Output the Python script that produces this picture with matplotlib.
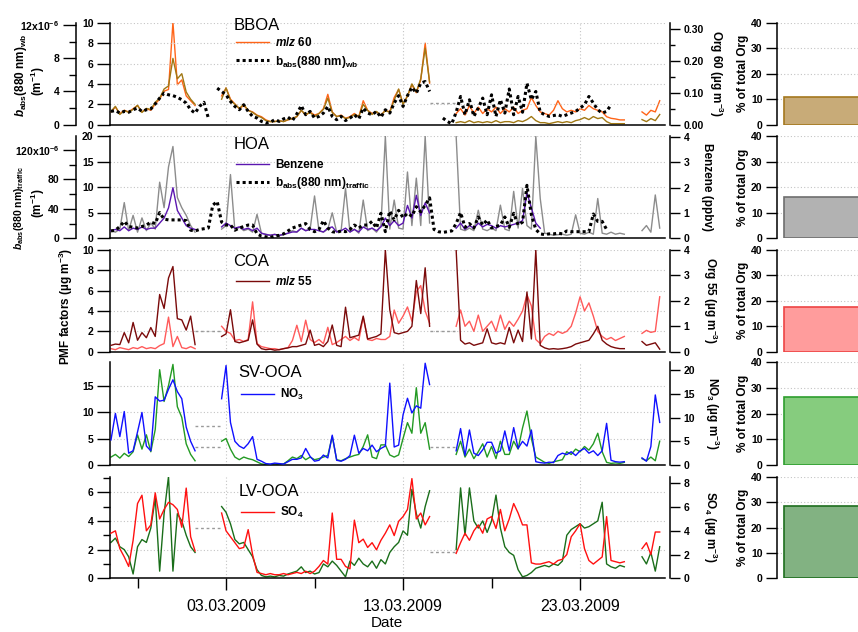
import numpy as np
import pandas as pd
import matplotlib
matplotlib.use("Agg")
import matplotlib.pyplot as plt
import matplotlib.dates as mdates
from matplotlib.ticker import MultipleLocator, FuncFormatter, FixedLocator

nan = np.nan

# 6-hourly values (Feb 24 12:00 .. Mar 27 12:00)
time = pd.date_range("2009-02-24 12:00", "2009-03-27 12:00", freq="6h")

bboa = [1.3, 1.8,
        1.0, 1.4, 1.2, 1.5,  1.9, 1.2, 1.6, 1.5,  2.2, 2.6, 3.5, 3.8,  6.5, 4.5, 5.0, 3.2,
        2.5, 2.0, nan, nan,  nan, nan, nan, 2.5,  3.6, 2.4, 2.0, 1.6,  2.0, 1.4, 1.2, 0.9,
        0.7, 0.4, 0.3, 0.3,  0.4, 0.3, 0.5, 0.6,  0.8, 1.4, 1.0, 1.2,  0.8, 1.1, 1.5, 2.6,
        1.2, 0.8, 0.9, 0.6,  0.7, 1.0, 0.8, 2.0,  1.4, 1.0, 1.3, 0.9,  1.4, 1.2, 2.4, 3.5,
        2.0, 2.8, 4.0, 3.2,  4.5, 7.5, 4.2, nan,  nan, nan, nan, nan,  0.2, 0.3, 0.2, 0.4,
        0.2, 0.3, 0.2, 0.3,  0.2, 0.4, 0.2, 0.3,  0.3, 0.2, 0.4, 0.3,  0.5, 0.8, 0.4, 0.2,
        0.2, 0.1, 0.2, 0.3,  0.2, 0.3, 0.2, 0.4,  0.5, 0.7, 0.5, 0.8,  0.6, 0.7, 0.3, 0.1,
        0.1, 0.1, 0.1, nan,  nan, nan, 0.5, 0.3,
        0.6, 0.4, 1.0]
mz60 = [0.040, 0.055,
        0.035, 0.045, 0.040, 0.050,  0.060, 0.040, 0.050, 0.045,  0.065, 0.080, 0.105, 0.110,
        0.320, 0.125, 0.140, 0.090,  0.075, 0.060, nan, nan,  nan, nan, nan, 0.090,
        0.115, 0.080, 0.065, 0.050,  0.060, 0.045, 0.040, 0.030,  0.025, 0.015, 0.010, 0.010,
        0.012, 0.010, 0.015, 0.020,  0.025, 0.045, 0.030, 0.040,  0.030, 0.035, 0.050, 0.095,
        0.040, 0.025, 0.030, 0.020,  0.025, 0.035, 0.025, 0.075,  0.045, 0.035, 0.040, 0.030,
        0.045, 0.040, 0.085, 0.110,  0.065, 0.090, 0.125, 0.100,  0.140, 0.255, 0.130, nan,
        nan, nan, nan, nan,  0.035, 0.050, 0.030, 0.060,  0.035, 0.055, 0.035, 0.050,
        0.040, 0.055, 0.035, 0.050,  0.040, 0.055, 0.035, 0.045,  0.050, 0.085, 0.060, 0.040,
        0.035, 0.030, 0.045, 0.075,  0.050, 0.040, 0.045, 0.040,  0.050, 0.045, 0.060, 0.050,
        0.045, 0.040, 0.025, 0.020,  0.018, 0.015, 0.015, nan,  nan, nan, 0.040, 0.030,
        0.045, 0.040, 0.075]
babs_wb = [1.6, 1.7,  # 10^-6 m-1
           1.4, 1.6, 1.5, 1.8,  2.0, 1.6, 1.8, 1.9,  2.5, 3.2, 3.8, 3.6,  3.5, 3.3, 3.0, 2.6,
           1.8, 1.4, 2.2, 2.7,  0.8, nan, 4.4, 4.0,  3.6, 2.8, 2.2, 1.8,  2.4, 1.6, 1.0, 0.8,
           0.4, 0.2, 0.3, 0.6,  0.4, 0.7, 0.9, 0.5,  1.3, 2.3, 1.2, 1.6,  0.8, 1.0, 1.4, 2.2,
           1.0, 0.6, 1.0, 0.5,  0.8, 1.2, 0.7, 2.0,  1.4, 1.2, 1.6, 0.9,  1.8, 1.4, 2.6, 3.5,
           2.2, 3.5, 4.5, 3.8,  5.0, 5.2, 4.0, nan,  nan, 0.8, 0.4, 0.1,  1.5, 3.4, 1.2, 3.0,
           1.0, 2.0, 3.2, 1.2,  3.6, 1.0, 3.0, 1.4,  4.3, 1.2, 3.4, 1.5,  5.0, 3.0, 4.0, 1.5,
           1.2, 1.0, 1.1, 1.2,  1.0, 1.2, 1.4, 1.6,  2.0, 2.4, 3.4, 2.6,  1.8, 1.4, 1.6, 2.4,
           nan, nan, nan, nan,  nan, nan, nan, nan,
           nan, nan, nan]

hoa = [1.5, 1.2,
       1.8, 7.0, 1.5, 4.5,  1.2, 4.0, 1.5, 3.0,  1.8, 11.0, 6.0, 14.0,  18.0, 8.0, 6.0, 4.5,
       2.5, 1.2, nan, nan,  nan, nan, nan, 1.8,  2.5, 12.5, 1.5, 2.2,  1.5, 1.8, 1.2, 4.7,
       1.0, 0.8, 0.6, 0.8,  0.5, 0.8, 1.0, 1.5,  1.2, 2.0, 1.5, 1.8,  8.3, 1.5, 1.2, 1.8,
       5.0, 1.2, 1.5, 9.8,  1.2, 1.8, 1.0, 7.5,  1.5, 2.0, 1.2, 2.5,  20.0, 1.8, 7.5, 2.0,
       1.8, 13.0, 2.5, 11.8,  2.5, 20.0, 3.0, nan,  nan, nan, nan, nan,  20.0, 1.8, 1.5, 2.0,
       1.5, 5.5, 1.8, 1.5,  2.0, 1.5, 6.5, 1.8,  1.5, 9.2, 2.0, 9.8,  2.5, 1.8, 20.0, 7.8,
       1.0, 0.8, 0.6, 0.7,  0.8, 0.6, 0.8, 4.6,  1.0, 0.8, 1.2, 0.8,  7.8, 1.0, 0.8, 1.2,
       0.8, 1.0, 0.8, nan,  nan, nan, 1.5, 2.5,
       1.2, 8.5, 2.0]
benzene = [0.30, 0.35,
           0.30, 0.45, 0.30, 0.40,  0.35, 0.45, 0.35, 0.40,  0.40, 0.60, 0.80, 1.20,
           2.00, 1.10, 0.80, 0.50,  0.40, 0.35, nan, nan,  nan, nan, nan, 0.45,
           0.60, 0.50, 0.40, 0.45,  0.35, 0.40, 0.30, 0.40,  0.20, 0.15, 0.12, 0.15,
           0.12, 0.15, 0.20, 0.25,  0.25, 0.40, 0.30, 0.35,  0.35, 0.30, 0.25, 0.40,
           0.45, 0.25, 0.30, 0.40,  0.25, 0.35, 0.25, 0.45,  0.35, 0.40, 0.30, 0.45,
           0.80, 0.50, 0.70, 0.50,  0.60, 1.30, 0.80, 1.70,  0.90, 1.40, 1.00, nan,
           nan, nan, nan, nan,  0.40, 0.60, 0.35, 0.50,  0.40, 0.60, 0.45, 0.55,
           0.50, 0.40, 0.50, 0.45,  0.50, 0.55, 0.60, 0.70,  1.80, 1.20, 0.60, 0.40,
           nan, nan, nan, nan,  nan, nan, nan, nan,  nan, nan, nan, nan,
           nan, nan, nan, nan,  nan, nan, nan, nan,  nan, nan, nan, nan,
           nan, nan, nan]
babs_traffic = [10, 11,  # 10^-6 m-1
                16, 23, 16, 15,  14, 16, 18, 22,  20, 35, 26, 25,  25, 25, 25, 24,
                11, 10, 12, 13,  14, 45, 50, 22,  18, 18, 11, 14,  16, 18, 18, 6,
                3, 2, 1, 3,  4, 6, 10, 14,  16, 18, 20, 12,  9, 12, 24, 14,
                9, 8, 10, 9,  12, 18, 14, 18,  18, 23, 14, 34,  9, 37, 25, 38,
                28, 34, 30, 43,  36, 45, 55, 12,  9, 8, 9, 10,  20, 35, 15, 20,
                14, 29, 18, 25,  14, 16, 18, 29,  15, 34, 18, 22,  72, 32, 12, 6,
                5, 6, 6, 7,  6, 10, 9, 9,  9, 9, 9, 33,  23, 23, 12, nan,
                nan, nan, nan, nan,  nan, nan, nan, nan,
                nan, nan, nan]

coa = [0.3, 0.2,
       0.4, 0.3, 0.2, 0.4,  0.3, 0.5, 0.3, 0.4,  0.3, 0.6, 0.8, 3.4,  0.5, 1.5, 0.4, 0.3,
       0.5, 0.3, nan, nan,  nan, nan, nan, 2.5,  2.0, 1.8, 1.1, 1.2,  1.0, 1.2, 4.9, 0.8,
       0.5, 0.4, 0.3, 0.3,  0.2, 0.3, 0.4, 1.1,  2.6, 1.0, 3.1, 1.2,  0.9, 1.2, 0.8, 2.4,
       0.7, 0.9, 1.2, 1.5,  1.1, 1.4, 1.1, 3.4,  1.2, 1.1, 1.3, 1.2,  1.2, 1.5, 4.1, 2.8,
       3.5, 4.4, 3.0, 5.9,  6.5, 4.0, 2.8, nan,  nan, nan, nan, nan,  2.5, 4.1, 2.5, 3.0,
       2.0, 3.6, 2.0, 2.5,  3.0, 2.0, 3.6, 2.2,  3.0, 2.5, 3.2, 4.0,  5.6, 4.5, 1.2, 0.8,
       1.5, 1.8, 1.6, 2.0,  1.8, 2.0, 2.5, 3.8,  5.4, 4.0, 4.8, 3.5,  2.0, 1.5, 1.2, 1.4,
       1.1, 1.3, 1.5, nan,  nan, nan, 1.8, 2.1,
       1.9, 2.0, 5.4]
mz55 = [0.25, 0.30,
        0.28, 0.75, 0.35, 1.15,  0.45, 0.75, 0.55, 0.95,  0.60, 2.25, 1.70, 2.90,
        3.35, 1.30, 1.25, 0.85,  1.40, 0.28, nan, nan,  nan, nan, nan, 0.60,
        0.70, 1.65, 0.40, 0.35,  0.40, 0.45, 1.25, 0.30,  0.12, 0.08, 0.10, 0.06,
        0.08, 0.12, 0.15, 0.20,  0.20, 0.25, 0.30, 0.85,  0.25, 0.30, 0.20, 0.40,
        1.05, 0.25, 0.20, 1.75,  0.55, 0.60, 0.65, 1.40,  0.50, 0.55, 0.60, 0.70,
        4.00, 1.65, 0.75, 0.70,  0.75, 0.80, 1.00, 2.80,  1.50, 3.30, 1.00, nan,
        nan, nan, nan, nan,  4.00, 0.45, 0.30, 0.35,  0.25, 0.30, 0.35, 0.90,
        0.35, 0.30, 0.35, 0.30,  0.95, 0.35, 0.85, 0.40,  2.35, 0.50, 4.00, 0.25,
        0.15, 0.10, 0.12, 0.10,  0.12, 0.15, 0.20, 0.30,  0.35, 0.40, 0.45, 0.70,
        1.00, 0.45, 0.30, 0.20,  0.15, 0.12, 0.12, nan,  nan, nan, 0.40, 0.25,
        0.30, 0.35, 0.10]

sv_ooa = [1.5, 2.0,
          1.3, 2.2, 1.6, 2.5,  5.7, 3.0, 5.7, 2.5,  6.7, 18.0, 12.0, 15.0,  19.0, 11.0, 9.0, 4.0,
          2.0, 0.8, nan, nan,  nan, nan, nan, 4.5,  5.0, 3.0, 1.5, 1.0,  1.5, 1.2, 1.0, 0.6,
          0.2, 0.1, 0.1, 0.2,  0.1, 0.2, 0.8, 1.5,  1.2, 1.8, 1.0, 1.5,  1.0, 1.2, 1.5, 1.8,
          5.4, 1.0, 0.8, 1.2,  1.5, 1.8, 2.0, 3.5,  5.7, 1.5, 1.2, 3.8,  3.8, 1.9, 1.5, 1.9,
          5.0, 8.0, 6.0, 14.6,  6.0, 8.0, 3.0, nan,  nan, nan, nan, nan,  2.0, 4.5, 1.5, 3.0,
          1.2, 2.5, 4.0, 1.5,  3.5, 1.2, 4.5, 2.0,  2.0, 4.5, 3.0, 7.0,  10.2, 5.0, 1.5, 1.0,
          0.5, 0.3, 0.6, 0.8,  1.0, 2.5, 2.0, 3.0,  2.5, 3.5, 2.8, 4.0,  6.0, 2.5, 0.5, 0.3,
          0.4, 0.3, 0.5, nan,  nan, nan, 1.2, 0.8,
          1.5, 0.8, 4.5]
no3 = [5.3, 10.9,
       6.0, 11.3, 2.5, 3.0,  7.0, 11.1, 4.0, 3.0,  14.4, 13.5, 13.7, 16.0,  18.0, 15.5, 14.0, 8.0,
       5.0, 3.0, nan, nan,  nan, nan, nan, 14.0,  21.0, 9.0, 5.0, 4.0,  3.5, 4.5, 6.0, 1.2,
       0.8, 0.3, 0.2, 0.4,  0.3, 0.2, 0.7, 1.2,  1.2, 1.5, 3.5, 1.8,  0.8, 1.0, 2.1, 1.5,
       6.3, 1.0, 0.8, 1.2,  2.0, 6.3, 2.5, 3.5,  3.0, 4.2, 2.8, 3.5,  4.0, 17.3, 3.8, 4.2,
       10.6, 14.1, 11.0, 12.5,  12.0, 21.5, 17.0, nan,  nan, nan, nan, nan,  3.0, 7.7, 2.0, 7.4,
       2.5, 2.0, 3.2, 4.8,  4.8, 2.5, 3.0, 7.2,  3.0, 7.9, 3.5, 5.0,  4.0, 7.4, 0.7, 0.5,
       0.4, 0.6, 0.5, 2.0,  2.5, 2.2, 2.8, 2.0,  3.0, 3.5, 2.5, 3.0,  2.0, 3.0, 8.8, 1.0,
       0.7, 0.6, 0.7, nan,  nan, nan, 1.5, 0.8,
       3.9, 14.8, 9.0]

lv_ooa = [2.5, 2.8,
          2.2, 2.0, 1.5, 0.3,  2.2, 2.7, 2.5, 3.5,  5.6, 0.5, 4.5, 7.1,  0.5, 4.5, 4.0, 3.0,
          2.2, 1.8, nan, nan,  nan, nan, nan, 5.0,  4.6, 3.8, 2.7, 2.4,  2.5, 2.0, 1.5, 0.6,
          0.2, 0.1, 0.15, 0.1,  0.2, 0.15, 0.3, 0.4,  0.5, 0.8, 0.4, 0.5,  0.3, 0.4, 1.0, 0.8,
          1.2, 0.9, 0.5, 0.1,  1.2, 0.9, 1.4, 1.0,  0.8, 1.2, 0.7, 1.3,  1.0, 1.8, 2.2, 2.5,
          3.3, 3.0, 6.2, 4.5,  3.5, 5.0, 6.1, nan,  nan, nan, nan, nan,  2.0, 6.3, 3.0, 6.3,
          4.0, 3.5, 4.0, 3.2,  4.0, 5.8, 3.5, 2.2,  1.8, 1.6, 0.6, 0.1,  0.2, 0.4, 0.7, 0.8,
          0.9, 0.8, 1.0, 0.9,  1.2, 3.0, 3.4, 3.6,  3.8, 3.5, 3.6, 3.8,  4.0, 5.3, 1.0, 0.8,
          0.7, 0.9, 0.8, nan,  nan, nan, 1.5, 1.0,
          1.8, 0.5, 2.2]
so4 = [3.8, 4.0,
       2.5, 1.8, 1.0, 3.2,  6.3, 7.0, 4.0, 4.5,  7.2, 5.0, 5.8, 6.4,  6.2, 5.8, 4.3, 7.6,
       3.5, 2.3, nan, nan,  nan, nan, nan, 5.5,  4.0, 3.5, 3.0, 2.5,  2.6, 4.1, 2.0, 0.5,
       0.4, 0.3, 0.4, 0.3,  0.3, 0.4, 0.3, 0.4,  0.5, 0.4, 0.6, 0.4,  0.6, 1.0, 1.5, 1.2,
       5.5, 1.6, 1.6, 1.0,  0.8, 4.9, 3.0, 3.3,  2.6, 3.0, 2.4, 3.2,  3.8, 4.5, 3.6, 4.8,
       5.2, 5.8, 8.4, 5.0,  5.5, 4.5, 5.2, nan,  nan, nan, nan, nan,  2.1, 3.0, 3.8, 3.2,
       4.0, 4.5, 3.8, 5.0,  5.2, 4.2, 5.8, 4.0,  5.0, 6.3, 5.5, 4.5,  4.5, 1.3, 1.2, 1.2,
       1.3, 1.4, 1.2, 1.5,  1.6, 2.0, 3.5, 4.0,  4.6, 2.5, 1.5, 1.2,  1.5, 1.8, 5.2, 1.5,
       1.4, 1.3, 1.4, nan,  nan, nan, 2.5, 3.0,
       2.0, 3.9, 3.9]

factor_names = ["BBOA", "HOA", "COA", "SV-OOA", "LV-OOA"]
pct_total_org = [11.0, 16.3, 17.5, 26.6, 28.5]
# level of the dashed line drawn across the 1st and 2nd data gap
gap_levels = [[[], [2.1]], [[], []], [[2.0], [2.0]], [[7.3, 3.4], [3.4]], [[3.5], [1.8]]]
major_dates = ["2009-03-03", "2009-03-13", "2009-03-23"]
minor_dates = ["2009-02-26", "2009-03-08", "2009-03-18"]

plt.rcParams["font.family"] = ["Liberation Sans", "DejaVu Sans"]
plt.rcParams["font.weight"] = "bold"
plt.rcParams["mathtext.fontset"] = "custom"
plt.rcParams["mathtext.rm"] = "Liberation Sans:bold"
plt.rcParams["mathtext.it"] = "Liberation Sans:italic:bold"
plt.rcParams["mathtext.bf"] = "Liberation Sans:bold"
plt.rcParams["axes.linewidth"] = 1.1

FW, FH = 858, 632
fig = plt.figure(figsize=(FW / 100, FH / 100), dpi=100)


def px_box(x0, x1, top, bottom):
    return [x0 / FW, 1 - bottom / FH, (x1 - x0) / FW, (bottom - top) / FH]


def gap_runs(values):
    bad = np.isnan(np.asarray(values, float))
    runs, i = [], 0
    while i < len(bad):
        if bad[i]:
            j = i
            while j < len(bad) and bad[j]:
                j += 1
            runs.append((i - 1, j))
            i = j
        else:
            i += 1
    return runs


def y_axis(ax, side, top, major, minor=None, fmt=None, length=9.4):
    ax.set_ylim(0, top)
    ax.yaxis.set_major_locator(MultipleLocator(major))
    if minor:
        ax.yaxis.set_minor_locator(MultipleLocator(minor))
    if fmt:
        ax.yaxis.set_major_formatter(FuncFormatter(fmt))
    for s in ax.spines.values():
        s.set_visible(False)
    ax.spines[side].set_visible(True)
    if side == "left":
        ax.yaxis.tick_left()
    else:
        ax.yaxis.tick_right()
    ax.tick_params(axis="y", which="major", length=length, width=1.0, pad=2.5, labelsize=7.5)
    ax.tick_params(axis="y", which="minor", length=length * 0.5, width=1.0)


def sci_fmt(top_val):
    def f(v, pos):
        if abs(v - top_val) < 1e-9:
            return f"{v:g}x10$^{{-6}}$"
        return f"{v:g}"
    return f


rows = [(22.7, 124.7), (136.3, 238.3), (250.0, 351.7), (362.3, 465.0), (476.7, 578.3)]
x_lim = (pd.Timestamp("2009-02-24 10:40"), pd.Timestamp("2009-03-27 19:10"))
grid_kw = dict(color="#c4c4c4", linestyle=(0, (1, 2)), linewidth=0.8)
dot = (0, (1, 1))

panels = [
    dict(factor=bboa, fcol="#a07814", ftop=10, fmaj=2, fmin=None,
         right=mz60, rcol="#ff6418", rtop=0.319, rmaj=0.10, rmin=0.05, rfmt=lambda v, p: f"{v:.2f}",
         rlab="Org 60 (µg m$^{-3}$)", rlab_x=716,
         far=babs_wb, far_top=12.28, far_maj=4, far_min=2,
         labels=[r"$\mathit{m/z}$ 60", r"b$_{\mathrm{abs}}$(880 nm)$_{\mathrm{wb}}$"],
         title_xy=(0.222, 0.97), leg_xy=(0.227, 0.865),
         bar_face="#c8ab78", bar_edge="#a4781e"),
    dict(factor=hoa, fcol="#8c8c8c", ftop=20, fmaj=5, fmin=None,
         right=benzene, rcol="#5b16b0", rtop=4.03, rmaj=1, rmin=None, rfmt=None,
         rlab="Benzene (ppbv)", rlab_x=707,
         far=babs_traffic, far_top=138.6, far_maj=40, far_min=20,
         labels=["Benzene", r"b$_{\mathrm{abs}}$(880 nm)$_{\mathrm{traffic}}$"],
         title_xy=(0.222, 0.915), leg_xy=(0.227, 0.775),
         bar_face="#b2b2b2", bar_edge="#6e6e6e"),
    dict(factor=coa, fcol="#ff5a5a", ftop=10, fmaj=2, fmin=None,
         right=mz55, rcol="#7a0a0a", rtop=4.0, rmaj=1, rmin=None, rfmt=None,
         rlab="Org 55 (µg m$^{-3}$)", rlab_x=710,
         far=None, labels=[r"$\mathit{m/z}$ 55"],
         title_xy=(0.222, 0.885), leg_xy=(0.227, 0.75),
         bar_face="#ff9c9c", bar_edge="#ee4444"),
    dict(factor=sv_ooa, fcol="#239a23", ftop=19.4, fmaj=5, fmin=None,
         right=no3, rcol="#1010ff", rtop=21.7, rmaj=5, rmin=None, rfmt=None,
         rlab="NO$_3$ (µg m$^{-3}$)", rlab_x=712,
         far=None, labels=["NO$_3$"],
         title_xy=(0.231, 0.896), leg_xy=(0.236, 0.76),
         bar_face="#86cc7e", bar_edge="#2e9e2e"),
    dict(factor=lv_ooa, fcol="#1a6e1a", ftop=7.08, fmaj=2, fmin=1,
         right=so4, rcol="#ff1010", rtop=8.56, rmaj=2, rmin=None, rfmt=None,
         rlab="SO$_4$ (µg m$^{-3}$)", rlab_x=710,
         far=None, labels=["SO$_4$"],
         title_xy=(0.231, 0.85), leg_xy=(0.236, 0.725),
         bar_face="#82b282", bar_edge="#1e6e1e"),
]

for k, p in enumerate(panels):
    top, bottom = rows[k]
    ax = fig.add_axes(px_box(110, 665, top, bottom))
    ax.plot(time, p["factor"], color=p["fcol"], lw=1.0)
    y_axis(ax, "left", p["ftop"], p["fmaj"], p["fmin"], length=9.4)
    ax.spines["bottom"].set_visible(True)
    ax.set_xlim(*x_lim)
    ax.xaxis.set_major_locator(FixedLocator(mdates.date2num(pd.to_datetime(major_dates))))
    ax.xaxis.set_minor_locator(FixedLocator(mdates.date2num(pd.to_datetime(minor_dates))))
    ax.xaxis.set_major_formatter(mdates.DateFormatter("%d.%m.%Y"))
    ax.grid(True, which="major", **grid_kw)
    ax.patch.set_visible(False)

    for (a, b), levels in zip(gap_runs(p["factor"]), gap_levels[k]):
        for lev in levels:
            ax.hlines(lev, time[a], time[b], colors="#9a9a9a", linestyles=(0, (2, 2)), lw=1.0)

    if k == len(panels) - 1:
        ax.tick_params(axis="x", which="major", length=8.6, width=1.0, pad=6, labelsize=11.5)
        ax.tick_params(axis="x", which="minor", length=7.2, width=1.0)
        plt.setp(ax.get_xticklabels(), fontweight="normal")
    else:
        ax.tick_params(axis="x", which="both", bottom=False, labelbottom=False)

    ax_r = ax.twinx()
    h_r, = ax_r.plot(time, p["right"], color=p["rcol"], lw=1.0)
    y_axis(ax_r, "right", p["rtop"], p["rmaj"], p["rmin"], p["rfmt"], length=7.2)
    ax_r.spines["right"].set_position(("outward", 3.6))
    handles = [h_r]
    top_ax = ax_r

    if p["far"] is not None:
        ax_f = ax.twinx()
        h_f, = ax_f.plot(time, p["far"], color="black", lw=2.2, ls=dot)
        y_axis(ax_f, "left", p["far_top"], p["far_maj"], p["far_min"],
               sci_fmt(p["far_maj"] * 3), length=9.4)
        ax_f.spines["left"].set_position(("outward", 24.5))
        handles.append(h_f)
        top_ax = ax_f

    if k == 0:
        # olive factor drawn over the orange m/z 60 trace
        ax_r.set_zorder(0)
        ax.set_zorder(1)
        top_ax.set_zorder(2)
        top_ax.patch.set_visible(False)
    else:
        top_ax.set_zorder(2)

    ax.text(p["title_xy"][0], p["title_xy"][1], factor_names[k], transform=ax.transAxes,
            fontsize=12, fontweight="normal", va="center", ha="left", zorder=5)
    top_ax.legend(handles, p["labels"], loc="upper left", bbox_to_anchor=p["leg_xy"],
                  frameon=False, fontsize=8.5, handlelength=2.8, handletextpad=0.5,
                  borderpad=0, borderaxespad=0, labelspacing=0.35)

    fig.text(p["rlab_x"] / FW, 1 - (top + bottom) / 2 / FH, p["rlab"], rotation=270,
             ha="center", va="center", fontsize=8.5)

    # share of total organics
    axb = fig.add_axes(px_box(777, 960, top, bottom))
    axb.bar([0.0], [pct_total_org[k]], width=1.0, align="edge",
            color=p["bar_face"], edgecolor=p["bar_edge"], lw=1.2)
    axb.set_xlim(-0.04, 1.0)
    y_axis(axb, "left", 40, 10, length=8.0)
    axb.xaxis.set_visible(False)
    axb.grid(True, axis="y", **grid_kw)
    axb.set_axisbelow(True)
    fig.text(743 / FW, 1 - (top + bottom) / 2 / FH, "% of total Org", rotation=90,
             ha="center", va="center", fontsize=8.5)

# absorption axis titles (two lines each)
fig.text(21 / FW, 1 - 75 / FH, r"$\mathit{b}_{\mathrm{abs}}$(880 nm)$_{\mathrm{wb}}$",
         rotation=90, ha="center", va="center", fontsize=8.5)
fig.text(38 / FW, 1 - 81 / FH, "(m$^{-1}$)", rotation=90, ha="center", va="center", fontsize=8.5)
fig.text(19 / FW, 1 - 208 / FH, r"$\mathit{b}_{\mathrm{abs}}$(880 nm)$_{\mathrm{traffic}}$",
         rotation=90, ha="center", va="center", fontsize=7.5)
fig.text(38 / FW, 1 - 203 / FH, "(m$^{-1}$)", rotation=90, ha="center", va="center", fontsize=8.5)

fig.text(66 / FW, 1 - 306 / FH, "PMF factors (µg m$^{-3}$)", rotation=90,
         ha="center", va="center", fontsize=8.5)
fig.text(387 / FW, 1 - 616 / FH, "Date", ha="center", va="top", fontsize=11, fontweight="normal")

fig.savefig("out.png", dpi=100)
